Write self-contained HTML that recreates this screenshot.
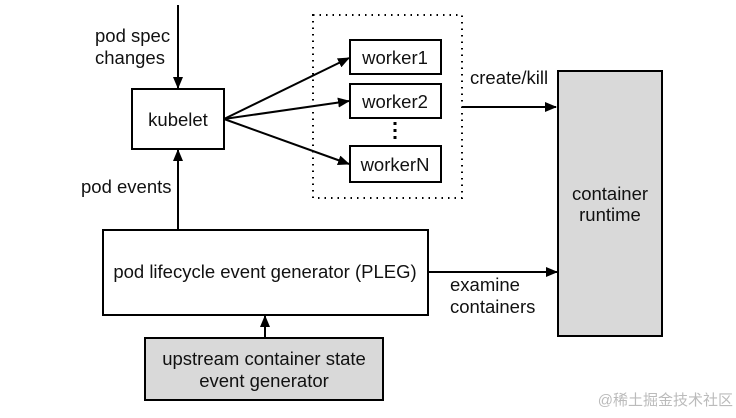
<!DOCTYPE html>
<html><head><style>
body{margin:0;background:#fff;}
svg text{font-family:"Liberation Sans",Arial,sans-serif;font-size:18.5px;fill:#111;}
</style></head><body>
<svg width="736" height="413" viewBox="0 0 736 413" xmlns="http://www.w3.org/2000/svg">
<defs><marker id="a" markerWidth="12" markerHeight="10" refX="11" refY="5" orient="auto" markerUnits="userSpaceOnUse"><path d="M0,0 L12,5 L0,10 z" fill="#000"/></marker></defs>
<g stroke="#000" stroke-width="2" fill="none">
<rect x="132" y="89" width="92" height="60" fill="#fff"/>
<rect x="313" y="15" width="149" height="183" stroke-dasharray="1.5 5" stroke-width="2"/>
<rect x="350" y="40" width="91" height="34" fill="#fff"/>
<rect x="350" y="84" width="91" height="34" fill="#fff"/>
<rect x="350" y="146" width="91" height="36" fill="#fff"/>
<line x1="395" y1="122" x2="395" y2="142" stroke-dasharray="3 4" stroke-width="3"/>
<rect x="558" y="71" width="104" height="265" fill="#d9d9d9"/>
<rect x="103" y="230" width="325" height="85" fill="#fff"/>
<rect x="145" y="338" width="238" height="62" fill="#d9d9d9"/>
<line x1="178" y1="5" x2="178" y2="88" marker-end="url(#a)"/>
<line x1="178" y1="230" x2="178" y2="150" marker-end="url(#a)"/>
<line x1="265" y1="338" x2="265" y2="316" marker-end="url(#a)"/>
<line x1="224" y1="119" x2="349" y2="58" marker-end="url(#a)"/>
<line x1="224" y1="119" x2="349" y2="101" marker-end="url(#a)"/>
<line x1="224" y1="119" x2="349" y2="164" marker-end="url(#a)"/>
<line x1="462" y1="107" x2="556" y2="107" marker-end="url(#a)"/>
<line x1="428" y1="272" x2="557" y2="272" marker-end="url(#a)"/>
</g>
<text x="95" y="42">pod spec</text>
<text x="95" y="64">changes</text>
<text x="178" y="126" text-anchor="middle">kubelet</text>
<text x="395" y="64" text-anchor="middle">worker1</text>
<text x="395" y="108" text-anchor="middle">worker2</text>
<text x="395" y="171" text-anchor="middle">workerN</text>
<text x="470" y="84">create/kill</text>
<text x="81" y="193">pod events</text>
<text x="610" y="200" text-anchor="middle">container</text>
<text x="610" y="221" text-anchor="middle">runtime</text>
<text x="265" y="278" text-anchor="middle">pod lifecycle event generator (PLEG)</text>
<text x="450" y="291">examine</text>
<text x="450" y="313">containers</text>
<text x="264" y="365" text-anchor="middle">upstream container state</text>
<text x="264" y="387" text-anchor="middle">event generator</text>
<text x="733" y="405" text-anchor="end" style="font-size:15px;fill:#bbb;font-family:'Liberation Sans','Noto Sans CJK SC',sans-serif">@稀土掘金技术社区</text>
</svg>
</body></html>
